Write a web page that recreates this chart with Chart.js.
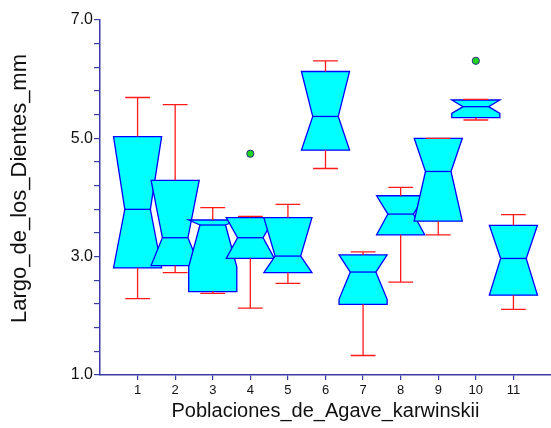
<!DOCTYPE html>
<html>
<head>
<meta charset="utf-8">
<script src="https://cdn.jsdelivr.net/npm/chart.js@4/dist/chart.umd.min.js"></script>
<style>
  html, body { margin: 0; padding: 0; background: #ffffff; }
  #wrap { width: 551px; height: 428px; }
</style>
</head>
<body>
<div id="wrap"><canvas id="chart" width="551" height="428"></canvas></div>
<script>
// Populations (x categories)
const categories = ['1', '2', '3', '4', '5', '6', '7', '8', '9', '10', '11'];

// Box-and-whisker statistics per population (tooth length, mm)
const whiskerLow  = [2.29, 2.73, 2.38, 2.13, 2.55, 4.49, 1.33, 2.57, 3.37, 5.31, 2.11];
const quartile1   = [2.81, 2.85, 2.41, 2.97, 2.73, 4.80, 2.195, 3.37, 3.60, 5.35, 2.35];
const medians     = [3.80, 3.32, 3.535, 3.32, 3.01, 5.37, 2.74, 3.72, 4.44, 5.535, 2.97];
const quartile3   = [5.03, 4.29, 3.62, 3.66, 3.66, 6.13, 3.03, 4.03, 5.00, 5.648, 3.53];
const whiskerHigh = [5.69, 5.57, 3.83, 3.68, 3.885, 6.31, 3.08, 4.17, 5.00, 5.66, 3.71];
// Median confidence notch limits
const notchLow    = [2.81, 2.85, 2.83, 2.97, 2.73, 4.80, 2.28, 3.37, 3.60, 5.42, 2.35];
const notchHigh   = [5.03, 4.29, 3.62, 3.66, 3.66, 6.13, 3.03, 4.03, 5.00, 5.648, 3.53];

// Outlying observations
const outlierGroup = [4, 10];
const outlierValue = [4.74, 6.31];

// Y axis tick labels
const yTickLabels = ['1.0', '3.0', '5.0', '7.0'];

const X_TITLE = 'Poblaciones_de_Agave_karwinskii';
const Y_TITLE = 'Largo_de_los_Dientes_mm';

const AXIS_COLOR = '#3b3ba6';
const FONT = "'Liberation Sans', Arial, Helvetica, sans-serif";
const BOX_HALF = 0.64;     // half box width, x units
const NOTCH_HALF = 0.34;   // half width at the median
const CAP_HALF = 0.33;     // half width of whisker caps

const notchedBoxes = {
  id: 'notchedBoxes',
  afterDatasetsDraw(chart) {
    const xs = chart.scales.x, ys = chart.scales.y, ctx = chart.ctx;
    ctx.save();
    for (let i = 0; i < categories.length; i++) {
      const xv = i + 1;
      const cx = xs.getPixelForValue(xv);
      const hw = xs.getPixelForValue(xv + BOX_HALF) - cx;
      const nw = xs.getPixelForValue(xv + NOTCH_HALF) - cx;
      const cw = xs.getPixelForValue(xv + CAP_HALF) - cx;
      const yQ1 = ys.getPixelForValue(quartile1[i]);
      const yQ3 = ys.getPixelForValue(quartile3[i]);
      const yMed = ys.getPixelForValue(medians[i]);
      const yNt = ys.getPixelForValue(Math.min(notchHigh[i], quartile3[i]));
      const yNb = ys.getPixelForValue(Math.max(notchLow[i], quartile1[i]));
      const yLo = ys.getPixelForValue(whiskerLow[i]);
      const yHi = ys.getPixelForValue(whiskerHigh[i]);

      // notched box
      ctx.beginPath();
      ctx.moveTo(cx - hw, yQ3);
      ctx.lineTo(cx - hw, yNt);
      ctx.lineTo(cx - nw, yMed);
      ctx.lineTo(cx - hw, yNb);
      ctx.lineTo(cx - hw, yQ1);
      ctx.lineTo(cx + hw, yQ1);
      ctx.lineTo(cx + hw, yNb);
      ctx.lineTo(cx + nw, yMed);
      ctx.lineTo(cx + hw, yNt);
      ctx.lineTo(cx + hw, yQ3);
      ctx.closePath();
      ctx.fillStyle = '#00ffff';
      ctx.fill();
      ctx.lineWidth = 1.3;
      ctx.strokeStyle = '#0000ff';
      ctx.lineJoin = 'miter';
      ctx.stroke();

      // median
      ctx.beginPath();
      ctx.moveTo(cx - nw, yMed);
      ctx.lineTo(cx + nw, yMed);
      ctx.stroke();

      // whiskers and caps
      ctx.strokeStyle = '#ff1a1a';
      ctx.lineWidth = 1.3;
      ctx.beginPath();
      ctx.moveTo(cx, yQ3); ctx.lineTo(cx, yHi);
      ctx.moveTo(cx - cw, yHi); ctx.lineTo(cx + cw, yHi);
      ctx.moveTo(cx, yQ1); ctx.lineTo(cx, yLo);
      ctx.moveTo(cx - cw, yLo); ctx.lineTo(cx + cw, yLo);
      ctx.stroke();
    }
    ctx.restore();
  },
  afterDraw(chart) {
    // vertical axis title, set a little above the plot's middle
    const {ctx, chartArea} = chart;
    ctx.save();
    ctx.translate(20, (chartArea.top + chartArea.bottom) / 2 - 9);
    ctx.rotate(-Math.PI / 2);
    ctx.font = '22px ' + FONT;
    ctx.fillStyle = '#111';
    ctx.textAlign = 'center';
    ctx.textBaseline = 'middle';
    ctx.fillText(Y_TITLE, 0, 0);
    ctx.restore();
  }
};

const yTickValues = [];
for (let k = 0; k <= 15; k++) yTickValues.push(1 + k * 0.4);

new Chart(document.getElementById('chart'), {
  type: 'scatter',
  data: {
    datasets: [{
      label: 'outliers',
      data: outlierGroup.map((g, i) => ({ x: g, y: outlierValue[i] })),
      pointRadius: 3.6,
      pointBackgroundColor: '#1ed41e',
      pointBorderColor: '#2a2a8a',
      pointBorderWidth: 1
    }]
  },
  options: {
    responsive: false,
    animation: false,
    devicePixelRatio: 1,
    layout: { autoPadding: false, padding: { top: 20, right: 0, left: 0, bottom: 0 } },
    plugins: { legend: { display: false }, tooltip: { enabled: false } },
    scales: {
      x: {
        type: 'linear',
        min: 0, max: 12,
        afterBuildTicks: s => { s.ticks = categories.map((c, i) => ({ value: i + 1 })); },
        afterFit: s => { s.height = 53; s.paddingLeft = 0; s.paddingRight = 0; },
        ticks: {
          autoSkip: false, maxRotation: 0, padding: 3,
          color: '#111', font: { family: FONT, size: 13 },
          callback: (v) => categories[Math.round(v) - 1] ?? ''
        },
        grid: { drawOnChartArea: false, drawTicks: true, tickLength: 5, color: AXIS_COLOR, lineWidth: 1.2 },
        border: { display: true, color: AXIS_COLOR, width: 1.5 },
        title: { display: true, text: X_TITLE, color: '#111',
                 font: { family: FONT, size: 20 }, padding: { top: 0, bottom: 5 } }
      },
      y: {
        type: 'linear',
        min: 1, max: 7,
        afterBuildTicks: s => { s.ticks = yTickValues.map(v => ({ value: v })); },
        afterFit: s => { s.width = 100; s.paddingTop = 0; s.paddingBottom = 0; },
        ticks: {
          autoSkip: false, padding: 1,
          color: '#111', font: { family: FONT, size: 16 },
          callback: (v) => yTickLabels.find(t => Math.abs(parseFloat(t) - v) < 1e-6) ?? ''
        },
        grid: { drawOnChartArea: false, drawTicks: true, tickLength: 6, color: AXIS_COLOR, lineWidth: 1.2 },
        border: { display: true, color: AXIS_COLOR, width: 1.5 },
        title: { display: false }
      }
    }
  },
  plugins: [notchedBoxes]
});
</script>
</body>
</html>
